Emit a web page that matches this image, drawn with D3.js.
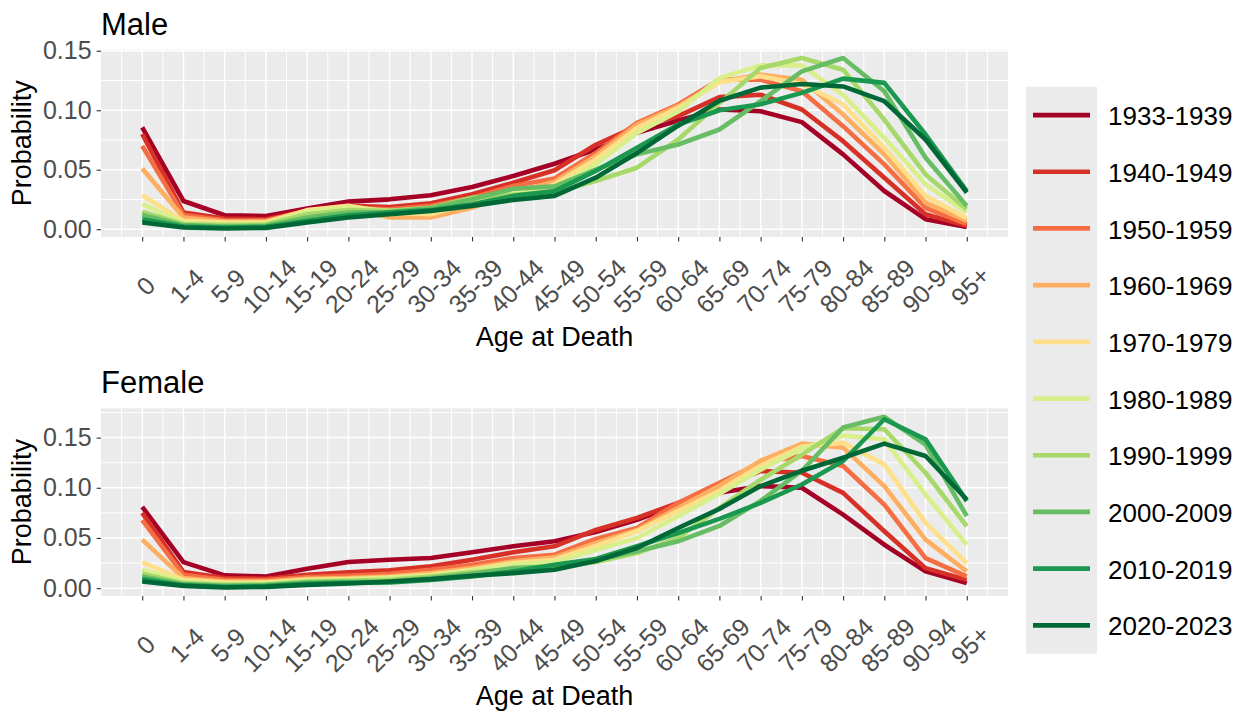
<!DOCTYPE html>
<html lang="en">
<head>
<meta charset="utf-8">
<style>
  body { margin: 0; background: #fff; }
  text { font-family: "Liberation Sans", Arial, sans-serif; }
</style>
</head>
<body>
<script src="https://d3js.org/d3.v7.min.js"></script>
<script>
// age groups on the x axis
const ages = ["0","1-4","5-9","10-14","15-19","20-24","25-29","30-34","35-39","40-44",
  "45-49","50-54","55-59","60-64","65-69","70-74","75-79","80-84","85-89","90-94","95+"];

const periods = ["1933-1939","1940-1949","1950-1959","1960-1969","1970-1979",
  "1980-1989","1990-1999","2000-2009","2010-2019","2020-2023"];

const colors = ["#a50026","#d73027","#f46d43","#fdae61","#fee08b",
  "#d9ef8b","#a6d96a","#66bd63","#1a9850","#006837"];

// male, probability of death by age group
const male1933 = [0.0855,0.0237,0.0117,0.0110,0.0173,0.0232,0.0251,0.0285,0.0355,0.0447,0.0550,0.0670,0.0810,0.0914,0.1006,0.0992,0.0900,0.0629,0.0321,0.0084,0.0018];
const male1940 = [0.0800,0.0140,0.0089,0.0084,0.0154,0.0196,0.0187,0.0218,0.0293,0.0390,0.0495,0.0710,0.0866,0.0950,0.1110,0.1130,0.1006,0.0740,0.0433,0.0126,0.0028];
const male1950 = [0.0700,0.0120,0.0075,0.0073,0.0154,0.0180,0.0168,0.0196,0.0265,0.0363,0.0427,0.0640,0.0894,0.1048,0.1257,0.1257,0.1160,0.0866,0.0545,0.0180,0.0042];
const male1960 = [0.0510,0.0098,0.0064,0.0064,0.0154,0.0180,0.0098,0.0098,0.0180,0.0307,0.0400,0.0615,0.0880,0.1034,0.1240,0.1300,0.1257,0.0964,0.0629,0.0224,0.0070];
const male1970 = [0.0285,0.0070,0.0056,0.0056,0.0160,0.0196,0.0140,0.0126,0.0224,0.0251,0.0377,0.0587,0.0850,0.1020,0.1235,0.1285,0.1220,0.1050,0.0685,0.0280,0.0092];
const male1980 = [0.0210,0.0056,0.0042,0.0047,0.0148,0.0180,0.0154,0.0168,0.0251,0.0307,0.0350,0.0545,0.0810,0.0990,0.1270,0.1377,0.1377,0.1130,0.0768,0.0377,0.0140];
const male1990 = [0.0148,0.0042,0.0034,0.0039,0.0126,0.0160,0.0154,0.0180,0.0265,0.0290,0.0310,0.0405,0.0517,0.0754,0.1060,0.1355,0.1439,0.1340,0.0920,0.0460,0.0168];
const male2000 = [0.0120,0.0034,0.0022,0.0028,0.0098,0.0140,0.0145,0.0176,0.0251,0.0340,0.0360,0.0500,0.0630,0.0712,0.0838,0.1076,0.1327,0.1439,0.1160,0.0600,0.0196];
const male2010 = [0.0084,0.0022,0.0014,0.0020,0.0070,0.0117,0.0140,0.0160,0.0210,0.0280,0.0320,0.0490,0.0685,0.0880,0.1000,0.1050,0.1146,0.1266,0.1230,0.0796,0.0320];
const male2020 = [0.0056,0.0014,0.0006,0.0011,0.0056,0.0098,0.0126,0.0154,0.0196,0.0246,0.0280,0.0433,0.0640,0.0870,0.1080,0.1190,0.1220,0.1200,0.1076,0.0754,0.0307];

// female
const female1933 = [0.0810,0.0260,0.0127,0.0117,0.0193,0.0260,0.0283,0.0300,0.0357,0.0417,0.0467,0.0560,0.0680,0.0833,0.0950,0.1017,0.1000,0.0733,0.0433,0.0167,0.0050];
const female1940 = [0.0750,0.0160,0.0100,0.0093,0.0133,0.0157,0.0177,0.0217,0.0283,0.0357,0.0417,0.0580,0.0700,0.0850,0.1000,0.1167,0.1150,0.0950,0.0567,0.0200,0.0083];
const female1950 = [0.0677,0.0133,0.0083,0.0080,0.0110,0.0123,0.0143,0.0183,0.0233,0.0300,0.0333,0.0490,0.0600,0.0850,0.1050,0.1250,0.1317,0.1217,0.0833,0.0300,0.0117];
const female1960 = [0.0483,0.0100,0.0067,0.0067,0.0093,0.0100,0.0117,0.0150,0.0200,0.0267,0.0307,0.0450,0.0580,0.0800,0.1020,0.1270,0.1440,0.1400,0.1017,0.0483,0.0167];
const female1970 = [0.0260,0.0083,0.0057,0.0057,0.0083,0.0090,0.0107,0.0133,0.0183,0.0250,0.0283,0.0420,0.0567,0.0767,0.0970,0.1220,0.1410,0.1450,0.1233,0.0650,0.0250];
const female1980 = [0.0183,0.0067,0.0043,0.0047,0.0077,0.0083,0.0100,0.0123,0.0177,0.0233,0.0260,0.0380,0.0500,0.0717,0.0940,0.1180,0.1390,0.1520,0.1483,0.0933,0.0433];
const female1990 = [0.0143,0.0050,0.0033,0.0037,0.0067,0.0073,0.0083,0.0117,0.0157,0.0190,0.0210,0.0260,0.0350,0.0500,0.0800,0.1080,0.1330,0.1593,0.1583,0.1150,0.0617];
const female2000 = [0.0117,0.0040,0.0023,0.0030,0.0057,0.0063,0.0067,0.0100,0.0143,0.0200,0.0217,0.0280,0.0367,0.0467,0.0620,0.0870,0.1170,0.1600,0.1707,0.1430,0.0717];
const female2010 = [0.0090,0.0030,0.0013,0.0020,0.0043,0.0053,0.0057,0.0083,0.0117,0.0167,0.0233,0.0290,0.0417,0.0550,0.0690,0.0850,0.1033,0.1267,0.1683,0.1483,0.0867];
const female2020 = [0.0067,0.0023,0.0007,0.0013,0.0033,0.0047,0.0067,0.0090,0.0123,0.0150,0.0183,0.0270,0.0400,0.0600,0.0790,0.1017,0.1170,0.1300,0.1440,0.1317,0.0883];

const maleSeries = [male1933,male1940,male1950,male1960,male1970,male1980,male1990,male2000,male2010,male2020];
const femaleSeries = [female1933,female1940,female1950,female1960,female1970,female1980,female1990,female2000,female2010,female2020];

const yTicks = [0, 0.05, 0.10, 0.15];

const width = 1250, height = 716;
const panelLeft = 101, panelRight = 1008;
const tickFont = 25;

const svg = d3.select("body").append("svg")
  .attr("width", width)
  .attr("height", height)
  .attr("viewBox", [0, 0, width, height]);

const x = d3.scaleLinear().domain([-1, ages.length]).range([panelLeft, panelRight]);

function drawPanel(title, series, top, bottom) {
  // ggplot style 5% expansion
  const lo = d3.min(series, s => d3.min(s)), hi = d3.max(series, s => d3.max(s));
  const pad = (hi - lo) * 0.05;
  const y = d3.scaleLinear().domain([lo - pad, hi + pad]).range([bottom, top]);

  const g = svg.append("g");

  g.append("rect")
    .attr("x", panelLeft).attr("y", top)
    .attr("width", panelRight - panelLeft).attr("height", bottom - top)
    .attr("fill", "#ebebeb");

  // minor grid
  const yMinor = d3.range(0.025, hi + pad, 0.05);
  g.selectAll(".ymin").data(yMinor).join("line")
    .attr("x1", panelLeft).attr("x2", panelRight)
    .attr("y1", d => y(d)).attr("y2", d => y(d))
    .attr("stroke", "#fff").attr("stroke-width", 1);
  g.selectAll(".xmin").data(d3.range(-0.5, ages.length, 1)).join("line")
    .attr("x1", d => x(d)).attr("x2", d => x(d))
    .attr("y1", top).attr("y2", bottom)
    .attr("stroke", "#fff").attr("stroke-width", 1);
  // major grid
  g.selectAll(".ymaj").data(yTicks).join("line")
    .attr("x1", panelLeft).attr("x2", panelRight)
    .attr("y1", d => y(d)).attr("y2", d => y(d))
    .attr("stroke", "#fff").attr("stroke-width", 1.5);
  g.selectAll(".xmaj").data(d3.range(ages.length)).join("line")
    .attr("x1", d => x(d)).attr("x2", d => x(d))
    .attr("y1", top).attr("y2", bottom)
    .attr("stroke", "#fff").attr("stroke-width", 1.5);

  const line = d3.line().x((d, i) => x(i)).y(d => y(d));

  g.selectAll(".series").data(series).join("path")
    .attr("d", line)
    .attr("fill", "none")
    .attr("stroke", (d, i) => colors[i])
    .attr("stroke-width", 4.6)
    .attr("stroke-linejoin", "round");

  // y axis
  const ya = g.append("g")
    .attr("transform", `translate(${panelLeft},0)`)
    .call(d3.axisLeft(y).tickValues(yTicks).tickFormat(d3.format(".2f")).tickSize(4.4).tickPadding(5));
  ya.select(".domain").remove();
  ya.selectAll("line").attr("stroke", "#333").attr("stroke-width", 1.1);
  ya.selectAll("text").attr("font-size", tickFont).attr("fill", "#4d4d4d")
    .style("font-family", '"Liberation Sans", Arial, sans-serif');

  // x axis
  const xa = g.append("g")
    .attr("transform", `translate(0,${bottom})`)
    .call(d3.axisBottom(x).tickValues(d3.range(ages.length)).tickFormat(i => ages[i]).tickSize(4.4));
  xa.select(".domain").remove();
  xa.selectAll("line").attr("stroke", "#333").attr("stroke-width", 1.1);
  xa.selectAll("text")
    .attr("x", 0).attr("y", 0).attr("dy", "0.35em")
    .attr("transform", "translate(3,49) rotate(-45)")
    .attr("text-anchor", "middle")
    .attr("font-size", tickFont).attr("fill", "#4d4d4d")
    .style("font-family", '"Liberation Sans", Arial, sans-serif');

  // titles
  g.append("text")
    .attr("x", panelLeft).attr("y", top - 15)
    .attr("font-size", 31).attr("fill", "#000")
    .text(title);

  g.append("text")
    .attr("x", (panelLeft + panelRight) / 2).attr("y", bottom + 109)
    .attr("text-anchor", "middle")
    .attr("font-size", 27).attr("fill", "#000")
    .text("Age at Death");

  g.append("text")
    .attr("transform", `translate(31,${(top + bottom) / 2}) rotate(-90)`)
    .attr("text-anchor", "middle")
    .attr("font-size", 27).attr("fill", "#000")
    .text("Probability");
}

drawPanel("Male", maleSeries, 49.5, 237);
drawPanel("Female", femaleSeries, 408.3, 596);

// legend
const keyH = 56.7, legTop = 86.7, keyX = 1026, keyW = 71;
const leg = svg.append("g");
leg.append("rect")
  .attr("x", keyX).attr("y", legTop)
  .attr("width", keyW).attr("height", keyH * periods.length)
  .attr("fill", "#ebebeb");

const items = leg.selectAll(".item").data(periods).join("g")
  .attr("transform", (d, i) => `translate(0,${legTop + keyH * (i + 0.5)})`);
items.append("line")
  .attr("x1", keyX + 7).attr("x2", keyX + 64)
  .attr("stroke", (d, i) => colors[i])
  .attr("stroke-width", 4.7);
items.append("text")
  .attr("x", 1108).attr("y", 1)
  .attr("dy", "0.35em")
  .attr("font-size", 26).attr("fill", "#000")
  .text(d => d);
</script>
</body>
</html>
